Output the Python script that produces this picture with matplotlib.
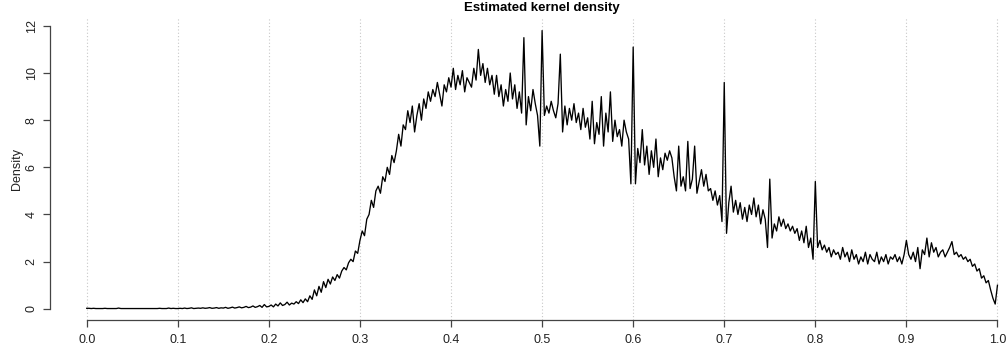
import numpy as np
import matplotlib
matplotlib.use("Agg")
import matplotlib.pyplot as plt

plt.rcParams['font.family'] = ['Liberation Sans', 'DejaVu Sans']

# Data: estimated kernel density on a grid from 0 to 1 (step 0.0025)
x_start, x_end = 0.0, 1.0
density = [
    0.02,0.02,0.01,0.02,0.01,0.01,0.01,0.01,0.02,0.01,0.01,0.01,0.01,0.01,0.03,0.01,0.01,0.01,0.01,0.01,
    0.01,0.01,0.01,0.01,0.01,0.01,0.01,0.01,0.01,0.01,0.01,0.01,0.02,0.01,0.01,0.01,0.03,0.01,0.02,0.01,
    0.01,0.02,0.01,0.03,0.01,0.02,0.04,0.01,0.02,0.03,0.02,0.04,0.02,0.03,0.05,0.02,0.03,0.05,0.02,0.04,
    0.03,0.06,0.02,0.04,0.07,0.03,0.05,0.08,0.04,0.06,0.10,0.05,0.07,0.12,0.06,0.09,0.14,0.06,0.18,0.08,
    0.10,0.16,0.08,0.20,0.12,0.25,0.14,0.18,0.28,0.16,0.24,0.20,0.30,0.22,0.38,0.26,0.42,0.30,0.55,0.40,
    0.80,0.55,0.95,0.70,1.15,0.90,1.25,1.05,1.35,1.20,1.45,1.30,1.60,1.75,1.65,1.95,2.10,2.00,2.45,2.35,
    2.90,3.30,3.10,3.80,4.00,4.60,4.30,5.00,5.20,4.90,5.60,5.40,6.00,5.70,6.50,6.20,6.70,7.40,6.90,7.80,
    7.60,8.40,7.90,8.60,7.50,8.20,8.70,8.00,8.90,8.50,9.20,8.80,9.30,9.00,9.60,9.10,8.60,9.50,9.20,9.80,
    9.40,10.20,9.30,9.90,9.50,10.10,9.20,9.80,9.60,9.40,10.20,9.70,11.00,9.90,10.40,9.60,10.20,9.50,9.90,9.10,
    9.90,9.00,9.50,8.60,9.30,8.80,10.00,8.90,9.50,8.50,9.20,8.30,11.50,7.80,9.00,8.40,9.30,8.70,8.20,6.90,
    11.80,8.20,8.60,8.30,8.80,8.40,8.10,8.70,10.80,7.50,8.60,7.80,8.50,8.00,8.70,7.90,8.30,7.60,8.50,7.70,
    8.10,7.20,8.80,7.00,7.90,7.40,9.00,6.90,8.30,7.50,9.20,7.10,8.00,7.30,7.60,6.90,8.00,7.50,7.20,5.30,
    11.10,5.30,6.80,6.20,7.60,6.10,6.90,5.70,6.70,6.00,7.20,5.60,6.40,5.90,6.60,6.30,6.70,6.40,5.60,5.00,
    6.90,5.20,5.60,5.00,7.10,5.10,5.50,6.90,4.90,5.40,5.90,5.20,5.70,5.00,5.10,4.60,5.00,4.40,4.80,3.70,
    9.60,3.20,4.50,5.20,4.10,4.60,4.00,4.50,3.80,4.30,3.70,4.40,4.00,4.70,3.90,4.40,3.60,4.20,3.80,2.60,
    5.50,3.00,3.60,3.30,3.90,3.50,3.80,3.40,3.60,3.30,3.50,3.20,3.40,2.90,3.30,2.80,3.50,2.60,3.00,2.10,
    5.40,2.60,2.90,2.50,2.70,2.40,2.60,2.20,2.50,2.30,2.40,2.10,2.60,2.20,2.40,2.00,2.50,2.10,2.30,1.90,
    2.20,2.00,2.40,1.90,2.30,2.10,2.00,2.40,1.90,2.20,2.00,2.30,1.90,2.20,2.10,2.30,2.00,2.20,1.90,2.30,
    2.90,2.30,2.10,2.40,2.00,2.60,1.70,2.50,2.30,3.00,2.20,2.80,2.40,2.60,2.20,2.40,2.50,2.20,2.40,2.60,
    2.85,2.30,2.40,2.20,2.30,2.10,2.20,2.00,2.10,1.80,1.90,1.60,1.70,1.30,1.40,1.10,1.20,0.80,0.45,0.20,
    1.00,
]
x_ticks = [0.0, 0.1, 0.2, 0.3, 0.4, 0.5, 0.6, 0.7, 0.8, 0.9, 1.0]
x_tick_labels = ["0.0", "0.1", "0.2", "0.3", "0.4", "0.5", "0.6", "0.7", "0.8", "0.9", "1.0"]
y_ticks = [0, 2, 4, 6, 8, 10, 12]
y_tick_labels = ["0", "2", "4", "6", "8", "10", "12"]
title = "Estimated kernel density"
ylabel = "Density"

xs = np.linspace(x_start, x_end, len(density))
ys = np.array(density)

W, H = 1008, 355
fig = plt.figure(figsize=(W / 100, H / 100), dpi=100)
left_px, right_px = 50.3, 1033.9
top_px, bottom_px = 17, 320
ax = fig.add_axes([left_px / W, 1 - bottom_px / H, (right_px - left_px) / W, (bottom_px - top_px) / H])

ax.set_xlim(-0.04, 1.04)
ax.set_ylim(-0.476, 12.376)

for xv in x_ticks:
    ax.axvline(xv, color="#c8c8c8", linestyle=(0, (1, 2)), linewidth=0.8, zorder=1)

ax.plot(xs, ys, color="black", linewidth=0.95, zorder=3)

for s in ["top", "right"]:
    ax.spines[s].set_visible(False)
ax.spines["bottom"].set_bounds(0, 1)
ax.spines["left"].set_bounds(0, 12)
for s in ["bottom", "left"]:
    ax.spines[s].set_color("#444444")
    ax.spines[s].set_linewidth(0.9)

ax.set_xticks(x_ticks)
ax.set_xticklabels(x_tick_labels)
ax.set_yticks(y_ticks)
ax.set_yticklabels(y_tick_labels, rotation=90, va="center")
ax.tick_params(axis="both", direction="out", length=5, width=0.9, color="#444444",
               labelsize=9, labelcolor="#222222")
ax.tick_params(axis="x", pad=5)
ax.tick_params(axis="y", pad=4)

ax.set_ylabel(ylabel, fontsize=9, color="#222222", labelpad=2)
fig.text((left_px + right_px) / 2 / W, 1 - 8.5 / H, title, ha="center", va="center",
         fontsize=9.5, fontweight="bold")

fig.savefig("out.png", dpi=100)
